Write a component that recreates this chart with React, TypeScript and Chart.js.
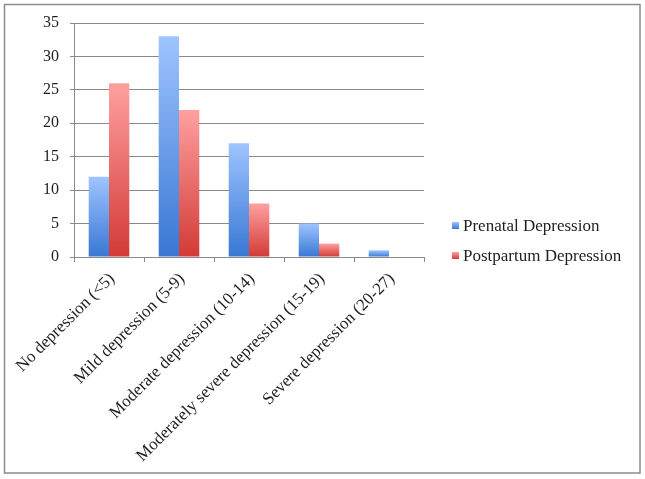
import { useEffect, useRef } from 'react';
import { Chart, registerables } from 'chart.js';

Chart.register(...registerables);

const categories = [
  'No depression (<5)',
  'Mild depression (5-9)',
  'Moderate depression (10-14)',
  'Moderately severe depression (15-19)',
  'Severe depression (20-27)',
];
const seriesNames = ['Prenatal Depression', 'Postpartum Depression'];
const prenatal = [12, 33, 17, 5, 1];
const postpartum = [26, 22, 8, 2, 0];
const yMax = 35;
const yStep = 5;

const FONT = '"Liberation Serif", "Times New Roman", serif';
const TEXT = '#1e1e1e';
const GRID = '#8a8a8a';

const BLUE_TOP = '#9fc4ff';
const BLUE_BOTTOM = '#3877d4';
const RED_TOP = '#ffa0a0';
const RED_BOTTOM = '#d23a36';

const barGradient = (top: string, bottom: string) => (c: any) => {
  const chart = c.chart;
  const y = chart.scales && chart.scales.y;
  if (!y || c.type !== 'data') return bottom;
  const v = c.raw as number;
  const yTop = y.getPixelForValue(v);
  const yBot = y.getPixelForValue(0);
  if (!isFinite(yTop) || !isFinite(yBot) || Math.abs(yBot - yTop) < 0.5) return bottom;
  const g = chart.ctx.createLinearGradient(0, yTop, 0, yBot);
  g.addColorStop(0, top);
  g.addColorStop(1, bottom);
  return g;
};

const framePlugin = {
  id: 'frame',
  afterDraw(chart: any) {
    const ctx = chart.ctx;
    ctx.save();
    ctx.strokeStyle = '#8c8c8c';
    ctx.lineWidth = 1.5;
    ctx.strokeRect(4.5, 4.5, chart.width - 9.5, chart.height - 10.5);
    ctx.restore();
  },
};

const legendPlugin = {
  id: 'customLegend',
  afterDraw(chart: any) {
    const ctx = chart.ctx;
    const area = chart.chartArea;
    const colors = [
      [BLUE_TOP, BLUE_BOTTOM],
      [RED_TOP, RED_BOTTOM],
    ];
    const x = area.right + 28;
    const rows = [area.bottom - 30, area.bottom];
    ctx.save();
    ctx.font = `17px ${FONT}`;
    ctx.textBaseline = 'middle';
    ctx.textAlign = 'left';
    seriesNames.forEach((name, i) => {
      const cy = rows[i];
      const g = ctx.createLinearGradient(0, cy - 5, 0, cy + 2);
      g.addColorStop(0, colors[i][0]);
      g.addColorStop(1, colors[i][1]);
      ctx.fillStyle = g;
      ctx.fillRect(x, cy - 5, 7, 7);
      ctx.fillStyle = TEXT;
      ctx.fillText(name, x + 11, cy);
    });
    ctx.restore();
  },
};

export default function App() {
  const ref = useRef<HTMLCanvasElement | null>(null);

  useEffect(() => {
    if (!ref.current) return;
    const chart = new Chart(ref.current, {
      type: 'bar',
      data: {
        labels: categories,
        datasets: [
          {
            label: seriesNames[0],
            data: prenatal,
            backgroundColor: barGradient(BLUE_TOP, BLUE_BOTTOM),
            borderWidth: 0,
            categoryPercentage: 0.58,
            barPercentage: 1,
          },
          {
            label: seriesNames[1],
            data: postpartum,
            backgroundColor: barGradient(RED_TOP, RED_BOTTOM),
            borderWidth: 0,
            categoryPercentage: 0.58,
            barPercentage: 1,
          },
        ],
      },
      options: {
        responsive: false,
        animation: false,
        layout: { padding: { top: 23, right: 221, bottom: 0, left: 0 } },
        plugins: {
          legend: { display: false },
          tooltip: { enabled: false },
          title: { display: false },
        },
        scales: {
          x: {
            offset: true,
            afterFit: (s: any) => {
              s.height = 222;
            },
            border: { display: true, color: GRID, width: 1 },
            grid: {
              offset: true,
              drawOnChartArea: false,
              drawTicks: true,
              tickLength: 5,
              color: GRID,
            },
            ticks: {
              minRotation: 45,
              maxRotation: 45,
              autoSkip: false,
              padding: 7,
              labelOffset: 3,
              color: TEXT,
              font: { family: FONT, size: 17 },
            },
          },
          y: {
            min: 0,
            max: yMax,
            afterFit: (s: any) => {
              s.width = 74;
            },
            border: { display: true, color: GRID, width: 1 },
            grid: {
              color: GRID,
              lineWidth: 1,
              drawTicks: true,
              tickLength: 4,
            },
            ticks: {
              stepSize: yStep,
              padding: 11,
              color: TEXT,
              font: { family: FONT, size: 16 },
            },
          },
        },
      },
      plugins: [framePlugin, legendPlugin],
    });
    return () => chart.destroy();
  }, []);

  return (
    <div style={{ position: 'absolute', left: 0, top: 0, width: 645, height: 479, background: '#fff' }}>
      <canvas ref={ref} width={645} height={479} style={{ display: 'block' }} />
    </div>
  );
}
